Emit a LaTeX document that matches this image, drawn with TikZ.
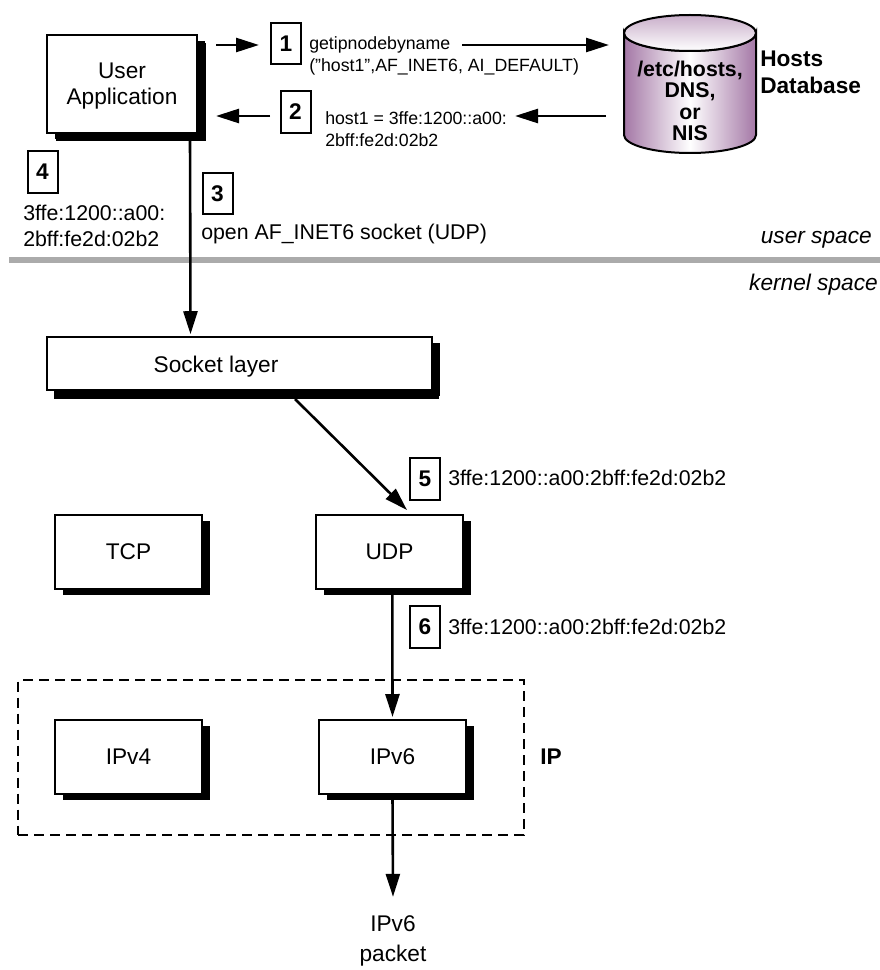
\documentclass[tikz,border=0pt]{standalone}
\usepackage{xcolor}
\usepackage{fontspec}
\setmainfont{Liberation Sans}
\usepackage{tikz}
\usetikzlibrary{shapes.geometric, shadows, arrows.meta}
\definecolor{dbpurple}{HTML}{A478A6}
\newcommand{\bigtext}{\fontsize{17}{20}\selectfont}
\newcommand{\midtext}{\fontsize{16}{19}\selectfont}
\newcommand{\dbfont}{\fontsize{16}{16}\selectfont\bfseries}
\newcommand{\smalltext}{\fontsize{13.3}{17}\selectfont}
\tikzstyle{layer} = [rectangle, minimum width=110.25pt, minimum height=55.5pt, inner sep=0pt, align=center, draw=black, line width=1.5pt, fill=white, font=\bigtext, general shadow={fill=black, shadow xshift=6pt, shadow yshift=-4.5pt}]
\tikzstyle{stepnum} = [rectangle, minimum width=22.5pt, minimum height=31pt, inner sep=0pt, draw=black, line width=1.5pt, font=\bigtext\bfseries]
\tikzstyle{note} = [inner sep=0pt, align=left, anchor=west]
\tikzstyle{link} = [line width=1.95pt, -{Triangle[length=17.25pt, width=10.5pt]}]

\begin{document}
\begin{tikzpicture}[x=0.75pt, y=-0.75pt, node distance=195.75pt]
      \useasboundingbox (0,0) rectangle (880,970);
      \draw [line width=4.5pt, black!33] (9,260) -- (880,260);
      \node (app) [layer, minimum width=112.5pt, minimum height=73.5pt, general shadow={fill=black, shadow xshift=6.75pt, shadow yshift=-6pt}] at (122,84) {};
      \node (appname) [inner sep=0pt, align=center, font=\bigtext] at (122,86) {User\\Application};
      \node (socket) [layer, minimum width=288.75pt, minimum height=39.4pt, general shadow={fill=black, shadow xshift=5.6pt, shadow yshift=-6.75pt}] at (239.5,363.5) {};
      \node (socketname) [inner sep=0pt, font=\bigtext] at (216,367) {Socket layer};
      \node (tcp) [layer] at (128.5,552) {TCP};
      \node (udp) [layer, right of=tcp] {UDP};
      \node (ipv4) [layer] at (128.5,757) {IPv4};
      \node (ipv6) [layer, right of=ipv4, node distance=198pt] {IPv6};
      \node (ipbox) [draw=black, line width=1.5pt, dashed, dash pattern=on 7.5pt off 4.5pt, minimum width=379.5pt, minimum height=116pt] at (271,757.5) {};
      \node (iplabel) [note, font=\bigtext\bfseries] at (540,757) {IP};
      \node (packet) [font=\bigtext, align=center, inner sep=0pt] at (393,941) {IPv6\\[2.5pt]packet};
      % database
      \shade [draw=black, line width=1.5pt, left color=dbpurple, right color=dbpurple, middle color=white] (624,33) -- (624,135) arc (180:0:66 and 18) -- (756,33) arc (0:180:66 and 18) -- cycle;
      \node (dbtop) [ellipse, minimum width=99pt, minimum height=27pt, inner sep=0pt, draw=black, line width=1.5pt, top color=dbpurple!60, bottom color=white] at (690,33) {};
      \node (dbtext) [align=center, inner sep=0pt, font=\dbfont] at (690,101) {/etc/hosts,\\DNS,\\or\\NIS};
      \node (dbname) [note, font=\bigtext\bfseries] at (760,72) {Hosts\\Database};
      % steps
      \node (one) [stepnum] at (286,43.5) {1};
      \node (two) [stepnum] at (295.5,112) {2};
      \node (three) [stepnum] at (217.5,193.5) {3};
      \node (four) [stepnum] at (42.5,172) {4};
      \node (five) [stepnum] at (425,479) {5};
      \node (six) [stepnum] at (425,627) {6};
      \node (getip) [note, font=\smalltext] at (309,56) {getipnodebyname\\("host1",AF\_INET6, AI\_DEFAULT)};
      \node (hostaddr) [note, font=\smalltext] at (325,129) {host1 = 3ffe:1200::a00:\\2bff:fe2d:02b2};
      \node (addrfour) [note, font=\midtext] at (23,226) {3ffe:1200::a00:\\2bff:fe2d:02b2};
      \node (opensock) [note, font=\midtext] at (201,234) {open AF\_INET6 socket (UDP)};
      \node (addrfive) [note, font=\midtext] at (448,478) {3ffe:1200::a00:2bff:fe2d:02b2};
      \node (addrsix) [note, font=\midtext] at (448,627) {3ffe:1200::a00:2bff:fe2d:02b2};
      \node (userspace) [inner sep=0pt, anchor=east, font=\bigtext\itshape] at (872,240) {user space};
      \node (kernelspace) [inner sep=0pt, anchor=east, font=\bigtext\itshape] at (878,285) {kernel space};
      % free ends
      \coordinate (aout) at (216,45);
      \coordinate (oneend) at (259,45);
      \coordinate (twoout) at (270,116);
      \coordinate (ain) at (216,116);
      \coordinate (getipout) at (462,45);
      \coordinate (dbin) at (609,45);
      \coordinate (dbout) at (606,116);
      \coordinate (hostin) at (515,116);
      \coordinate (sockout) at (295,399);
      \coordinate (udpin) at (407,510);
      \draw [link] (aout) -- (oneend);
      \draw [link] (twoout) -- (ain);
      \draw [link] (getipout) -- (dbin);
      \draw [link] (dbout) -- (hostin);
      \draw [link] ([xshift=51pt]app.south) -- ([xshift=-36.75pt, yshift=1.5pt]socket.north);
      \draw [link] (sockout) -- (udpin);
      \draw [link] ([xshift=2.1pt]udp.south) -- ([yshift=1.5pt]ipv6.north);
      \draw [link] (ipv6.south) -- ([yshift=14pt]packet.north);
    \end{tikzpicture}
\end{document}
